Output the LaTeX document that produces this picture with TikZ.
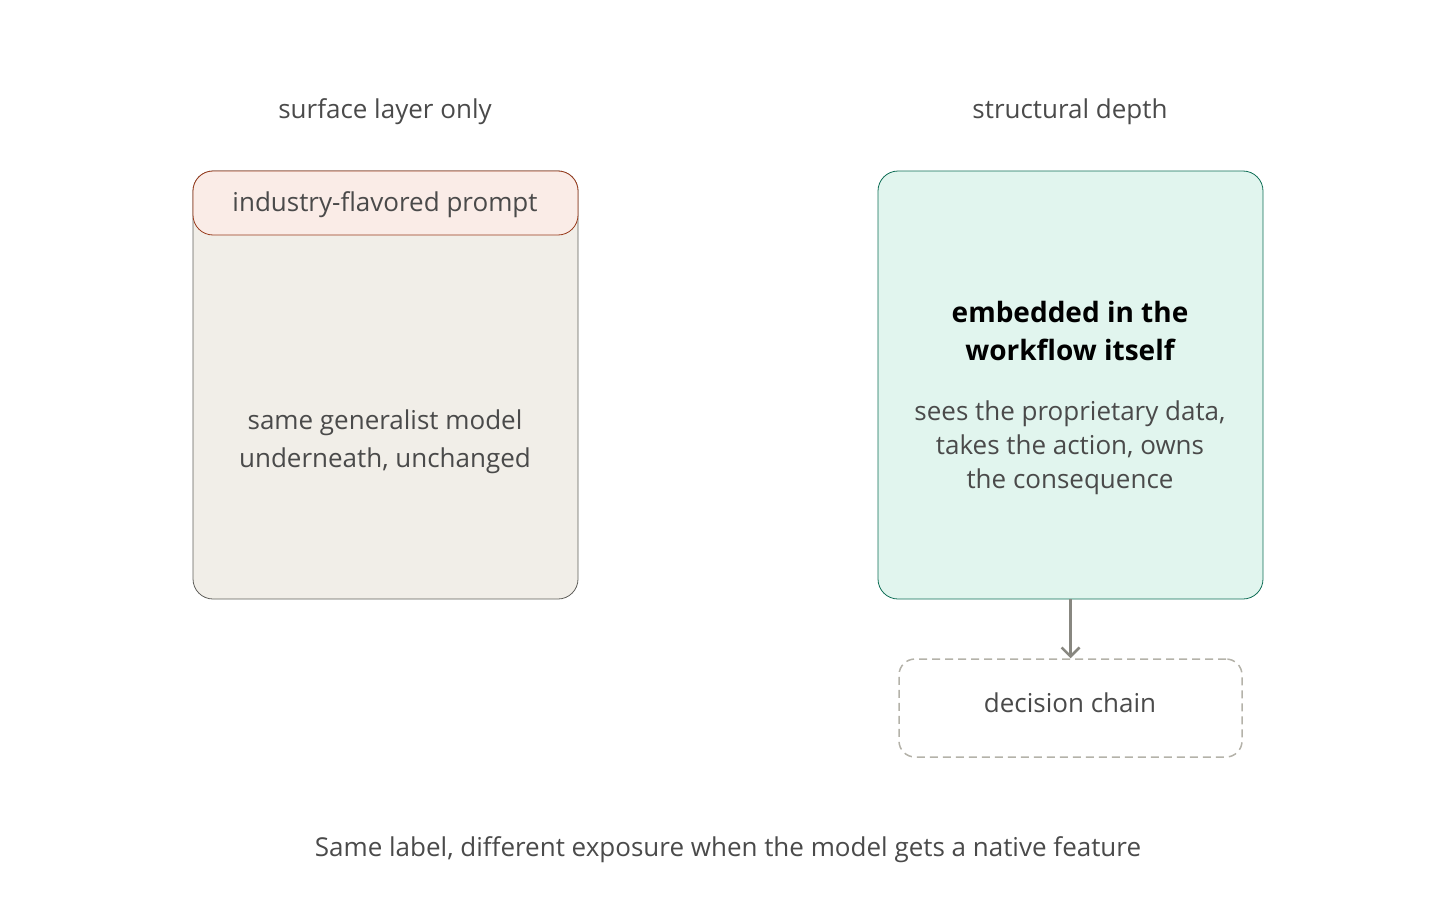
\documentclass[tikz,border=0pt]{standalone}
\usepackage{fontspec}
\setmainfont{Open Sans}
\usetikzlibrary{arrows.meta}
\definecolor{txt}{HTML}{4A4A4A}
\definecolor{redfill}{HTML}{FAECE7}
\definecolor{redline}{HTML}{993C1D}
\definecolor{bodyfill}{HTML}{F1EEE8}
\definecolor{bodyline}{HTML}{5F5E5A}
\definecolor{greenfill}{HTML}{E1F5EE}
\definecolor{greenline}{HTML}{0F6E56}
\definecolor{arrowc}{HTML}{888780}
\definecolor{dashc}{HTML}{B4B2A9}
\tikzset{
  lbl/.style={text=txt, font=\fontsize{26}{38}\selectfont, align=center, inner sep=0pt},
  bigbold/.style={text=black, font=\fontsize{28}{38}\selectfont\bfseries, align=center, inner sep=0pt},
}
\begin{document}
\begin{tikzpicture}[x=1pt,y=-1pt]
\useasboundingbox (0,0) rectangle (1456,899);
% left box
\draw[bodyline, fill=bodyfill, line width=0.8pt, rounded corners=20] (193,171) rectangle (578,599);
\node[draw=redline, fill=redfill, line width=0.8pt, rounded corners=20, minimum width=385pt, minimum height=64pt, inner sep=0pt] (hdr) at (385.5,203) {};
\node[lbl] (hdrt) at (385,204.5) {industry-flavored prompt};
\node[lbl] (title1) at (385,111.5) {surface layer only};
\node[lbl] (body1) at (385,441.5) {same generalist model\\underneath, unchanged};
% right box
\node[draw=greenline, fill=greenfill, line width=0.8pt, rounded corners=20, minimum width=385pt, minimum height=428pt, inner sep=0pt] (rbox) at (1070.5,385) {};
\node[lbl] (title2) at (1070,111.5) {structural depth};
\node[bigbold] (emb) at (1070,331) {embedded in the\\workflow itself};
\node[lbl, font=\fontsize{26}{34}\selectfont] (sees) at (1070,448) {sees the proprietary data,\\takes the action, owns\\the consequence};
% decision chain
\node[draw=dashc, dash pattern=on 8pt off 5pt, line width=1.5pt, rounded corners=16, minimum width=343pt, minimum height=98pt, inner sep=0pt] (dec) at (1070.5,708) {};
\node[lbl] (dect) at (1070,703) {decision chain};
\draw[arrowc, line width=2.5pt, -{Straight Barb[length=9pt,width=18pt,line width=2.5pt]}] (rbox.south) -- (dec.north);
% caption
\node[lbl] (cap) at (728,850) {Same label, different exposure when the model gets a native feature};
\end{tikzpicture}
\end{document}
